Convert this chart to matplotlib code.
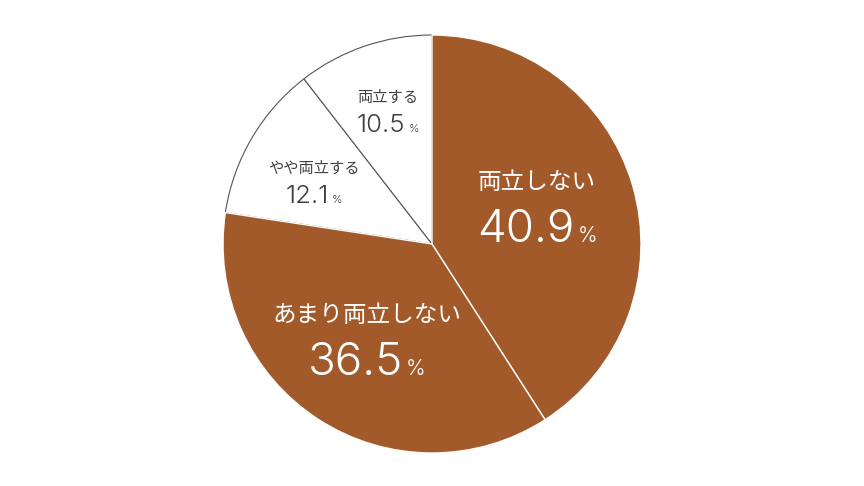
import matplotlib
matplotlib.use("Agg")
import matplotlib.pyplot as plt
import numpy as np

plt.rcParams['font.family'] = ['Noto Sans CJK JP', 'DejaVu Sans']

labels = ['両立しない', 'あまり両立しない', 'やや両立する', '両立する']
values = [40.9, 36.5, 12.1, 10.5]
value_labels = ['40.9', '36.5', '12.1', '10.5']

brown = '#A35A2A'
fills = [brown, brown, 'white', 'white']
txt_colors = ['white', 'white', '#3f3f3f', '#3f3f3f']
label_r = [0.525, 0.575, 0.63, 0.65]
label_dang = [0.6, 0, 4.4, 0]
big = [True, True, False, False]

fig = plt.figure(figsize=(8.64, 4.86), dpi=100)
ax = fig.add_axes([0, 0, 1, 1])

cx, cy, R = 432, 242, 209

wedges, _ = ax.pie(values, colors=fills, startangle=90, counterclock=False,
                   center=(cx, cy), radius=R, frame=True)
ax.set_xlim(0, 864)
ax.set_ylim(0, 486)
ax.set_aspect('equal')
ax.axis('off')

# white slices get a thin grey outline, brown ones sit on top with white edges
for w, c in zip(wedges, fills):
    if c == 'white':
        w.set_edgecolor('#555555')
        w.set_linewidth(0.8)
        w.set_zorder(1)
    else:
        w.set_edgecolor('white')
        w.set_linewidth(1.0)
        w.set_zorder(2)

fig.canvas.draw()
renderer = fig.canvas.get_renderer()

for w, name, val, col, rf, da, b in zip(wedges, labels, value_labels, txt_colors,
                                        label_r, label_dang, big):
    mid = np.deg2rad((w.theta1 + w.theta2) / 2 + da)
    x = cx + rf * R * np.cos(mid)
    y = cy + rf * R * np.sin(mid)
    if b:
        name_fs, num_fs, pct_fs, up, down, sp = 17, 33, 15, 29, 30, 3
    else:
        name_fs, num_fs, pct_fs, up, down, sp = 11, 18.5, 8, 18, 17, 3
    ax.text(x, y + up, name, color=col, fontsize=name_fs,
            ha='center', va='center', zorder=5)
    t_num = ax.text(0, 0, val, color=col, fontsize=num_fs, fontweight=300,
                    family='Inter', ha='left', va='baseline', zorder=5)
    t_pct = ax.text(0, 0, '%', color=col, fontsize=pct_fs, fontweight=300,
                    family='Inter', ha='left', va='baseline', zorder=5)
    wn = t_num.get_window_extent(renderer).width
    wp = t_pct.get_window_extent(renderer).width
    total = wn + sp + wp
    x0 = x - total / 2
    t_num.set_position((x0, y - down))
    t_pct.set_position((x0 + wn + sp, y - down))

fig.savefig('out.png', dpi=100, facecolor='white')
